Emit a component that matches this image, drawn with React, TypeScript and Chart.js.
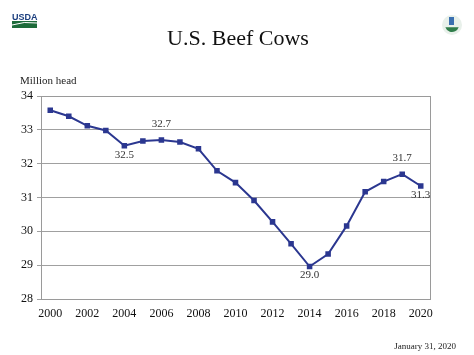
import React, { useEffect, useRef } from "react";
import { Chart, registerables } from "chart.js";

Chart.register(...registerables);

const years: string[] = [
  "2000", "2001", "2002", "2003", "2004", "2005", "2006", "2007", "2008", "2009", "2010",
  "2011", "2012", "2013", "2014", "2015", "2016", "2017", "2018", "2019", "2020",
];
const beefCows: number[] = [
  33.58, 33.40, 33.12, 32.98, 32.53, 32.67, 32.70, 32.64, 32.44, 31.79, 31.44,
  30.91, 30.28, 29.63, 28.96, 29.33, 30.16, 31.17, 31.47, 31.69, 31.34,
];
// index of point, label text, position (above / below)
const labelIdx: number[] = [4, 6, 14, 19, 20];
const labelText: string[] = ["32.5", "32.7", "29.0", "31.7", "31.3"];
const labelPos: string[] = ["below", "above", "below", "above", "below"];

const chartTitle = "U.S. Beef Cows";
const yUnit = "Million head";
const dateNote = "January 31, 2020";

const SERIF = "'Liberation Serif', 'Times New Roman', serif";

const decorPlugin = {
  id: "decor",
  beforeDraw(chart: any) {
    const ctx = chart.ctx;
    ctx.save();
    ctx.fillStyle = "#ffffff";
    ctx.fillRect(0, 0, chart.width, chart.height);
    // USDA logo
    ctx.fillStyle = "#1c3f7f";
    ctx.font = `bold 9px 'Liberation Sans', Arial, sans-serif`;
    ctx.textBaseline = "alphabetic";
    ctx.textAlign = "left";
    ctx.fillText("USDA", 12, 20);
    ctx.fillStyle = "#1d6b3a";
    ctx.fillRect(12, 21, 25, 7);
    ctx.strokeStyle = "#ffffff";
    ctx.lineWidth = 1;
    ctx.beginPath();
    ctx.moveTo(12, 25);
    ctx.quadraticCurveTo(24, 21, 37, 23);
    ctx.stroke();
    // right logo
    ctx.beginPath();
    ctx.arc(452, 25, 10, 0, Math.PI * 2);
    ctx.fillStyle = "#e8f0ea";
    ctx.fill();
    ctx.beginPath();
    ctx.arc(452, 25, 7, Math.PI * 0.1, Math.PI * 0.9);
    ctx.fillStyle = "#2f7d4a";
    ctx.fill();
    ctx.fillStyle = "#3a6fb0";
    ctx.fillRect(449, 17, 5, 8);
    ctx.restore();
  },
  afterDraw(chart: any) {
    const ctx = chart.ctx;
    const area = chart.chartArea;
    ctx.save();
    // plot border
    ctx.strokeStyle = "#9a9a9a";
    ctx.lineWidth = 1;
    ctx.strokeRect(Math.round(area.left) + 0.5, Math.round(area.top) + 0.5,
      Math.round(area.right - area.left), Math.round(area.bottom - area.top));
    // title
    ctx.fillStyle = "#111111";
    ctx.font = `22px ${SERIF}`;
    ctx.textAlign = "center";
    ctx.textBaseline = "alphabetic";
    ctx.fillText(chartTitle, 238, 45);
    // unit label
    ctx.font = `11px ${SERIF}`;
    ctx.textAlign = "left";
    ctx.fillStyle = "#222222";
    ctx.fillText(yUnit, 20, 84);
    // date
    ctx.font = `9px ${SERIF}`;
    ctx.textAlign = "right";
    ctx.fillText(dateNote, 456, 349);
    // data labels
    const meta = chart.getDatasetMeta(0);
    ctx.font = `11px ${SERIF}`;
    ctx.textAlign = "center";
    ctx.textBaseline = "middle";
    ctx.fillStyle = "#333333";
    labelIdx.forEach((idx, i) => {
      const pt = meta.data[idx];
      const dy = labelPos[i] === "above" ? -16 : 9;
      ctx.fillText(labelText[i], pt.x, pt.y + dy);
    });
    ctx.restore();
  },
};

export default function App() {
  const ref = useRef<HTMLCanvasElement | null>(null);
  useEffect(() => {
    if (!ref.current) return;
    const chart = new Chart(ref.current, {
      type: "line",
      data: {
        labels: years,
        datasets: [
          {
            data: beefCows,
            borderColor: "#2b3790",
            backgroundColor: "#2b3790",
            borderWidth: 2,
            pointStyle: "rect",
            pointRadius: 2.5,
            pointHoverRadius: 2.5,
            tension: 0,
            fill: false,
          },
        ],
      },
      options: {
        responsive: false,
        animation: false,
        events: [],
        layout: { padding: { top: 96, right: 44, left: 0, bottom: 0 } },
        plugins: {
          legend: { display: false },
          title: { display: false },
          tooltip: { enabled: false },
        },
        scales: {
          x: {
            type: "category",
            offset: true,
            grid: { display: false, drawTicks: false },
            border: { display: false },
            afterFit: (s: any) => { s.height = 56; },
            ticks: {
              autoSkip: false,
              maxRotation: 0,
              padding: 8,
              color: "#111111",
              font: { family: SERIF, size: 12 },
              callback: (_v: any, i: number) => (i % 2 === 0 ? years[i] : ""),
            },
          },
          y: {
            min: 28,
            max: 34,
            afterFit: (s: any) => { s.width = 41; },
            grid: { color: "#a0a0a0", lineWidth: 1, tickLength: 4, drawTicks: true },
            border: { display: false },
            ticks: {
              stepSize: 1,
              padding: 4,
              color: "#111111",
              font: { family: SERIF, size: 12 },
            },
          },
        },
      },
      plugins: [decorPlugin],
    });
    return () => chart.destroy();
  }, []);
  return (
    <div style={{ position: "absolute", left: 0, top: 0, width: 474, height: 355, background: "#fff" }}>
      <canvas ref={ref} width={474} height={355} style={{ display: "block" }} />
    </div>
  );
}
